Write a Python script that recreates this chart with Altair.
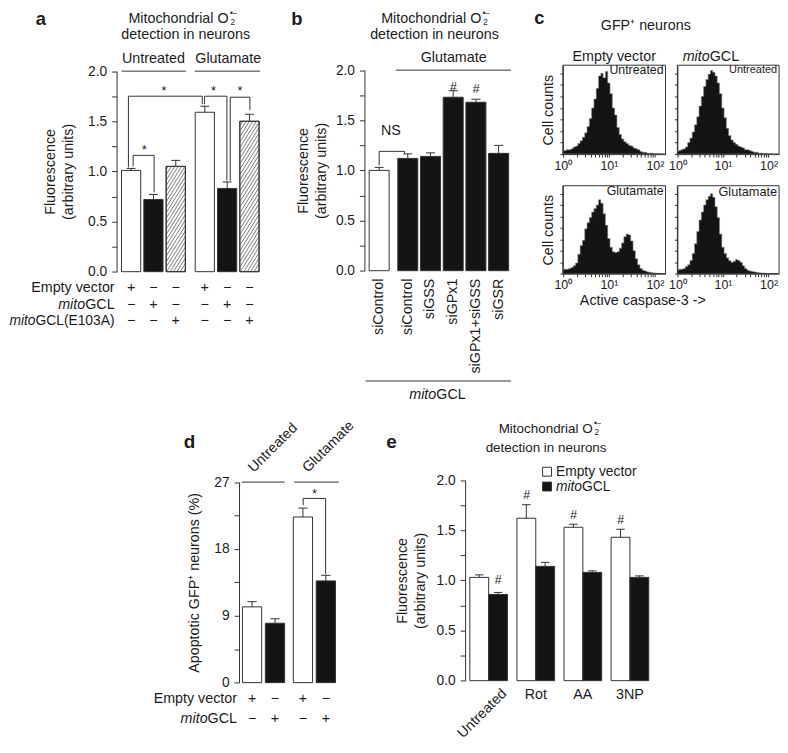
import altair as alt
import pandas as pd

FONT = "Liberation Sans"
INK = "#1c1c1c"
LINE = "#333333"
W, H = 776, 734
SX, SY = 0.9924, 0.993


def X(r):
    return round((r - 5) * SX, 2)


def Y(r):
    return round((r - 9) * SY, 2)


FSR = 14.5
FS = round(FSR * SX, 2)
FT = 13.8  # tick labels
FTC = 12.5  # histogram tick labels

# ------------------------------------------------------------------ data
# panel a
a_pos = [0, 1, 2, 3.3, 4.3, 5.3]
a_val = [1.01, 0.72, 1.05, 1.59, 0.83, 1.50]
a_err = [0.02, 0.05, 0.06, 0.06, 0.065, 0.07]
a_kind = ["open", "solid", "hatch", "open", "solid", "hatch"]
a_groups = ["Untreated", "Glutamate"]
a_signs_empty = ["+", "−", "−", "+", "−", "−"]
a_signs_mito = ["−", "+", "−", "−", "+", "−"]
a_signs_mut = ["−", "−", "+", "−", "−", "+"]
a_brackets = [(0.09, 1.05, 1.03, 0.79, 1.16), (-0.12, 1.04, 3.19, 1.67, 1.75),
              (3.29, 1.67, 4.29, 0.91, 1.75), (4.44, 0.91, 5.32, 1.61, 1.74)]
a_stars = [(0.59, 1.24), (1.47, 1.83), (3.69, 1.83), (4.88, 1.83)]

# panel b
b_labels = ["siControl", "siControl", "siGSS", "siGPx1", "siGPx1+siGSS", "siGSR"]
b_pos = [0, 1.26, 2.26, 3.26, 4.26, 5.26]
b_val = [1.00, 1.12, 1.14, 1.73, 1.68, 1.17]
b_err = [0.03, 0.045, 0.035, 0.065, 0.03, 0.08]
b_kind = ["open", "solid", "solid", "solid", "solid", "solid"]
b_ns_bracket = (0.0, 1.05, 1.12, 1.17, 1.19)
b_hash = [(3.26, 1.835), (4.26, 1.81)]

# panel c  (log10 bin centres and cell counts, % of frame height)
c_log = [round(0.05 * i, 2) for i in range(45)]
c_ev_untreated = [4, 4, 5, 5, 6, 8, 9, 12, 15, 19, 24, 31, 40, 52, 62, 74, 88, 91, 86, 93,
                  80, 68, 52, 44, 30, 22, 17, 14, 12, 10, 9, 7, 6, 5, 3, 2, 2, 1, 1, 1,
                  0.5, 0.5, 0.3, 0.2, 0]
c_mito_untreated = [3, 4, 5, 6, 8, 13, 18, 25, 33, 42, 54, 65, 76, 84, 90, 94, 92, 88, 80, 68,
                    52, 41, 29, 21, 16, 13, 11, 9, 8, 7, 5, 5, 4, 3, 2, 2, 1, 1, 0.5, 0.5,
                    0.3, 0.2, 0, 0, 0]
c_ev_glutamate = [4, 5, 5, 6, 7, 9, 12, 22, 32, 38, 51, 58, 64, 70, 74, 78, 84, 80, 68, 55,
                  40, 30, 25, 24, 25, 29, 35, 42, 45, 44, 37, 26, 17, 10, 6, 4, 3, 2, 1.5, 1,
                  0.8, 0.5, 0.3, 0.2, 0]
c_mito_glutamate = [4, 5, 5, 6, 8, 10, 15, 23, 34, 48, 61, 70, 78, 84, 88, 91, 87, 76, 64, 45,
                    30, 23, 18, 15, 13, 14, 16, 15, 13, 9, 6, 4, 3, 2.5, 2, 1.5, 1, 0.8, 0.5, 0.3,
                    0.2, 0.1, 0, 0, 0]

# panel d
d_pos = [0, 1, 2.22, 3.22]
d_val = [10.2, 8.0, 22.3, 13.7]
d_err = [0.7, 0.6, 1.2, 0.75]
d_kind = ["open", "solid", "open", "solid"]
d_signs_empty = ["+", "−", "+", "−"]
d_signs_mito = ["−", "+", "−", "+"]
d_bracket = (2.23, 23.9, 3.21, 14.6, 24.8)
d_star = (2.72, 25.8)

# panel e
e_groups = ["Untreated", "Rot", "AA", "3NP"]
e_empty = [1.03, 1.62, 1.53, 1.43]
e_empty_err = [0.025, 0.135, 0.03, 0.08]
e_mito = [0.86, 1.14, 1.08, 1.03]
e_mito_err = [0.02, 0.04, 0.015, 0.015]
e_hash = [(0.2, 1.0), (0.8, 1.85), (1.8, 1.65), (2.8, 1.6)]

# ------------------------------------------------------------------ layout
PA = {"xr": (115, 262), "xd": (-0.65, 5.85), "yr": (274, 71), "yd": (0, 2)}
PB = {"xr": (366, 514.35), "xd": (-0.65, 5.8), "yr": (273, 70), "yd": (0, 2)}
PD = {"xr": (239, 340.4), "xd": (-0.57, 3.8), "yr": (690, 487), "yd": (0, 27)}
PE = {"xr": (468, 658.8), "xd": (-0.5, 3.5), "yr": (688, 485), "yd": (0, 2)}

LAYERS = []


def xs(p):
    return alt.Scale(domain=list(p["xd"]), range=[X(p["xr"][0]), X(p["xr"][1])], nice=False, zero=False)


def ys(p):
    return alt.Scale(domain=list(p["yd"]), range=[Y(p["yr"][0]), Y(p["yr"][1])], nice=False, zero=False)


def yaxis(p, values, label_expr, title, title_pad, line_h=18):
    return alt.Axis(orient="left", offset=-X(p["xr"][0]), values=values, labelExpr=label_expr,
                    title=title, titlePadding=title_pad, titleLineHeight=line_h, tickSize=5,
                    labelPadding=5, domainColor=LINE, tickColor=LINE, labelColor=INK,
                    titleColor=INK, labelFont=FONT, titleFont=FONT, labelFontSize=FT,
                    titleFontSize=FS, titleFontWeight="normal", grid=False,
                    labelOverlap=False, labelFlush=False)


def segs(p, rows, color=LINE, width=1.0):
    df = pd.DataFrame(rows, columns=["x", "y", "x2", "y2"])
    return alt.Chart(df).mark_rule(color=color, strokeWidth=width).encode(
        x=alt.X("x:Q", scale=xs(p), axis=None), y=alt.Y("y:Q", scale=ys(p), axis=None),
        x2="x2:Q", y2="y2:Q")


def bracket_rows(b):
    xl, yl, xr, yr, yt = b
    return [(xl, yl, xl, yt), (xl, yt, xr, yt), (xr, yt, xr, yr)]


def dtext(p, pts, texts, **kw):
    df = pd.DataFrame({"x": [q[0] for q in pts], "y": [q[1] for q in pts], "t": texts})
    return alt.Chart(df).mark_text(font=FONT, color=INK, **kw).encode(
        x=alt.X("x:Q", scale=xs(p), axis=None), y=alt.Y("y:Q", scale=ys(p), axis=None), text="t:N")


def xtext(p, xvals, py, texts, **kw):
    df = pd.DataFrame({"x": xvals, "py": [Y(py)] * len(xvals), "t": texts})
    return alt.Chart(df).mark_text(font=FONT, color=INK, **kw).encode(
        x=alt.X("x:Q", scale=xs(p), axis=None), y=alt.Y("py:Q", scale=None, axis=None), text="t:N")


def ptext(items, **kw):
    df = pd.DataFrame([{"px": X(a), "py": Y(b), "t": t} for a, b, t in items])
    return alt.Chart(df).mark_text(font=FONT, color=INK, **kw).encode(
        x=alt.X("px:Q", scale=None, axis=None), y=alt.Y("py:Q", scale=None, axis=None), text="t:N")


W_MITO = 1.889


def mito_label(x, y, suffix, suffix_em, anchor="left", fs_ref=FSR):
    total = (W_MITO + suffix_em) * fs_ref
    if anchor == "right":
        left = x - total
    elif anchor == "center":
        left = x - total / 2
    else:
        left = x
    fs = round(fs_ref * SX, 2)
    return [ptext([(left, y, "mito")], align="left", baseline="middle", fontSize=fs, fontStyle="italic"),
            ptext([(left + W_MITO * fs_ref, y, suffix)], align="left", baseline="middle", fontSize=fs)]


def o2_title(left, cy1, cx2, cy2, fs_ref=FSR):
    fs = round(fs_ref * SX, 2)
    wmain = 7.002 * fs_ref
    return [ptext([(left, cy1, "Mitochondrial O")], align="left", baseline="middle", fontSize=fs),
            ptext([(left + wmain + 1.8, cy1 + 4.4, "2")], align="left", baseline="middle", fontSize=8.2),
            ptext([(left + wmain + 1.3, cy1 - 5, "•−")], align="left", baseline="middle", fontSize=8.2),
            ptext([(cx2, cy2, "detection in neurons")], align="center", baseline="middle", fontSize=fs)]


FILLS = {"open": "white", "solid": "#141414", "hatch": "white"}


def bar_layers(p, pos, val, err, kind, half, cap, axis):
    df = pd.DataFrame({"x0": [q - half for q in pos], "x1": [q + half for q in pos],
                       "b": [0.0] * len(pos), "v": val, "fc": [FILLS[k] for k in kind]})
    out = [alt.Chart(df).mark_rect(stroke=LINE, strokeWidth=1).encode(
        x=alt.X("x0:Q", scale=xs(p), axis=None), x2="x1:Q",
        y=alt.Y("b:Q", scale=ys(p), axis=axis), y2="v:Q",
        fill=alt.Fill("fc:N", scale=None))]
    # hatching (style only, derived from the bar extents)
    xu = (p["xr"][1] - p["xr"][0]) / (p["xd"][1] - p["xd"][0])
    yu = (p["yr"][0] - p["yr"][1]) / (p["yd"][1] - p["yd"][0])
    K, S = 1.6, 5.5
    rows = []
    hb = []
    for q, v, k in zip(pos, val, kind):
        if k != "hatch":
            continue
        hb.append((q, v))
        w = 2 * half * xu
        h = v * yu
        c = -K * w + S / 2
        while c < h:
            ulo = max(0.0, -c / K)
            uhi = min(w, (h - c) / K)
            if uhi > ulo + 0.3:
                rows.append((q - half + ulo / xu, (K * ulo + c) / yu, q - half + uhi / xu, (K * uhi + c) / yu))
            c += S
    if rows:
        out.append(segs(p, rows, color="#5a5a5a", width=0.8))
        dfo = pd.DataFrame({"x0": [q - half for q, _ in hb], "x1": [q + half for q, _ in hb],
                            "b": [0.0] * len(hb), "v": [v for _, v in hb]})
        out.append(alt.Chart(dfo).mark_rect(stroke=LINE, strokeWidth=1, fillOpacity=0, fill="white").encode(
            x=alt.X("x0:Q", scale=xs(p), axis=None), x2="x1:Q",
            y=alt.Y("b:Q", scale=ys(p), axis=None), y2="v:Q"))
    erows = []
    for q, v, e in zip(pos, val, err):
        erows.append((q, v, q, v + e))
        erows.append((q - cap, v + e, q + cap, v + e))
    out.append(segs(p, erows))
    return out


FLUOR_VALUES = [0, 0.25, 0.5, 0.75, 1, 1.25, 1.5, 1.75, 2]
FLUOR_EXPR = "datum.value % 0.5 == 0 ? format(datum.value, '.1f') : ''"
FLUOR_TITLE = ["Fluorescence", "(arbitrary units)"]

# ------------------------------------------------------------------ panel a
LAYERS += bar_layers(PA, a_pos, a_val, a_err, a_kind, 0.43, 0.2,
                     yaxis(PA, FLUOR_VALUES, FLUOR_EXPR, FLUOR_TITLE, 12))
LAYERS.append(segs(PA, [(-0.43, 2.0, 2.45, 2.0), (2.85, 2.0, 5.78, 2.0)]))
LAYERS.append(dtext(PA, [(1.0, 2.12), (4.35, 2.12)], a_groups, fontSize=FS, baseline="middle"))
LAYERS.append(segs(PA, [r for b in a_brackets for r in bracket_rows(b)]))
LAYERS.append(dtext(PA, a_stars, ["*"] * len(a_stars), fontSize=13, baseline="middle", dy=3))
LAYERS.append(xtext(PA, a_pos, 291, a_signs_empty, fontSize=FS, baseline="middle"))
LAYERS.append(xtext(PA, a_pos, 308, a_signs_mito, fontSize=FS, baseline="middle"))
LAYERS.append(xtext(PA, a_pos, 324, a_signs_mut, fontSize=FS, baseline="middle"))
LAYERS.append(ptext([(113, 291, "Empty vector")], align="right", baseline="middle", fontSize=FS))
LAYERS += mito_label(113, 308, "GCL", 2.056, "right")
LAYERS += mito_label(113, 324, "GCL(E103A)", 5.724, "right", fs_ref=14.0)
LAYERS += o2_title(127, 18, 185, 34)

# ------------------------------------------------------------------ panel b
LAYERS += bar_layers(PB, b_pos, b_val, b_err, b_kind, 0.44, 0.2,
                     yaxis(PB, FLUOR_VALUES, FLUOR_EXPR, FLUOR_TITLE, 7))
LAYERS.append(segs(PB, [(0.74, 2.0, 5.8, 2.0)]))
LAYERS.append(dtext(PB, [(3.28, 2.12)], ["Glutamate"], fontSize=FS, baseline="middle"))
LAYERS.append(segs(PB, bracket_rows(b_ns_bracket)))
LAYERS.append(dtext(PB, [(0.52, 1.39)], ["NS"], fontSize=FS, baseline="middle"))
LAYERS.append(dtext(PB, b_hash, ["#"] * len(b_hash), fontSize=12.5, baseline="middle", fontStyle="italic"))
LAYERS.append(xtext(PB, b_pos, 281, b_labels, fontSize=FS, angle=270, align="right", baseline="middle"))
LAYERS.append(segs(PB, [(-0.6, -1.10, 5.8, -1.10)]))
LAYERS += mito_label(440, 399, "GCL", 2.056, "center")
LAYERS += o2_title(383, 18, 437, 34)

# ------------------------------------------------------------------ panel c
C_DOM = [1, 170]


def hist(vals, xr, yr, left_title):
    sx_ = alt.Scale(type="log", domain=C_DOM, range=[X(xr[0]), X(xr[1])], nice=False)
    sy_ = alt.Scale(domain=[0, 100], range=[Y(yr[0]), Y(yr[1])], nice=False, zero=False)
    ticks = [1, 2, 3, 4, 5, 6, 7, 8, 9, 10, 20, 30, 40, 50, 60, 70, 80, 90, 100]
    xaxis = alt.Axis(orient="bottom", offset=round(Y(yr[0]) - H, 2), values=ticks,
                     labelExpr="datum.value == 1 ? '10⁰' : datum.value == 10 ? '10¹' : datum.value == 100 ? '10²' : ''",
                     tickSize=3, labelPadding=2, domainColor=LINE, tickColor=LINE, labelColor=INK,
                     labelFont=FONT, labelFontSize=FTC, title=None, grid=False, labelOverlap=False,
                     labelFlush=False)
    yaxis_ = alt.Axis(orient="left", offset=-X(xr[0]), values=[0, 13, 26, 39, 52, 65, 78, 91],
                      labels=False, tickSize=3, domainColor=LINE, tickColor=LINE,
                      title="Cell counts" if left_title else None, titleFont=FONT, titleFontSize=FS,
                      titleFontWeight="normal", titleColor=INK, titlePadding=4, grid=False)
    df = pd.DataFrame({"f": [10 ** l for l in c_log], "n": vals})
    area = alt.Chart(df).mark_area(interpolate="step", color="#141414", stroke="#8a8a8a",
                                   strokeWidth=0.6).encode(
        x=alt.X("f:Q", scale=sx_, axis=xaxis), y=alt.Y("n:Q", scale=sy_, axis=yaxis_))
    frame = alt.Chart(pd.DataFrame({"x": [C_DOM[0]], "x2": [C_DOM[1]], "y": [0], "y2": [100]})).mark_rect(
        fill="white", fillOpacity=0, stroke=LINE, strokeWidth=1).encode(
        x=alt.X("x:Q", scale=sx_, axis=None), x2="x2:Q", y=alt.Y("y:Q", scale=sy_, axis=None), y2="y2:Q")
    return [area, frame]


LAYERS += hist(c_ev_untreated, (567, 671), (155, 65), True)
LAYERS += hist(c_mito_untreated, (683, 786), (155, 65), False)
LAYERS += hist(c_ev_glutamate, (567, 671), (276, 187), True)
LAYERS += hist(c_mito_glutamate, (683, 786), (276, 187), False)
LAYERS.append(ptext([(651, 25, "GFP⁺ neurons"), (619, 57, "Empty vector"), (648, 304, "Active caspase-3 ->")],
                    align="center", baseline="middle", fontSize=FS))
LAYERS += mito_label(717, 57, "GCL", 2.056, "center")
LAYERS.append(ptext([(669, 70, "Untreated"), (669, 192, "Glutamate")], align="right", baseline="middle", fontSize=12.4))
LAYERS.append(ptext([(784, 70, "Untreated")], align="right", baseline="middle", fontSize=11))
LAYERS.append(ptext([(784, 193, "Glutamate")], align="right", baseline="middle", fontSize=12.8))

# ------------------------------------------------------------------ panel d
LAYERS += bar_layers(PD, d_pos, d_val, d_err, d_kind, 0.42, 0.2,
                     yaxis(PD, [0, 4.5, 9, 13.5, 18, 22.5, 27],
                           "datum.value % 9 == 0 ? format(datum.value, 'd') : ''",
                           "Apoptotic GFP⁺ neurons (%)", 12))
LAYERS.append(segs(PD, [(-0.45, 27, 1.42, 27), (1.84, 27, 3.78, 27)]))
LAYERS.append(ptext([(256, 480, "Untreated"), (311, 480, "Glutamate")], angle=315, align="left",
                    baseline="bottom", fontSize=FS))
LAYERS.append(segs(PD, bracket_rows(d_bracket)))
LAYERS.append(dtext(PD, [d_star], ["*"], fontSize=13, baseline="middle", dy=3))
LAYERS.append(xtext(PD, d_pos, 707, d_signs_empty, fontSize=FS, baseline="middle"))
LAYERS.append(xtext(PD, d_pos, 727, d_signs_mito, fontSize=FS, baseline="middle"))
LAYERS.append(ptext([(237, 707, "Empty vector")], align="right", baseline="middle", fontSize=FS))
LAYERS += mito_label(237, 727, "GCL", 2.056, "right")

# ------------------------------------------------------------------ panel e
e_x = list(range(len(e_groups)))
LAYERS += bar_layers(PE, [g - 0.2 for g in e_x], e_empty, e_empty_err, ["open"] * 4, 0.2, 0.09,
                     yaxis(PE, FLUOR_VALUES, FLUOR_EXPR, FLUOR_TITLE, 9))
LAYERS += bar_layers(PE, [g + 0.2 for g in e_x], e_mito, e_mito_err, ["solid"] * 4, 0.2, 0.09, None)
LAYERS.append(dtext(PE, e_hash, ["#"] * len(e_hash), fontSize=12.5, baseline="middle", fontStyle="italic"))
LAYERS.append(ptext([(503, 694, e_groups[0])], angle=315, align="right", baseline="top", fontSize=FS))
LAYERS.append(xtext(PE, e_x[1:], 703, e_groups[1:], fontSize=FS, baseline="middle"))
leg = pd.DataFrame({"px": [X(551), X(551)], "py": [Y(476.5), Y(491.5)], "fc": ["white", "#141414"]})
LAYERS.append(alt.Chart(leg).mark_square(size=80, stroke=LINE, strokeWidth=1, opacity=1).encode(
    x=alt.X("px:Q", scale=None, axis=None), y=alt.Y("py:Q", scale=None, axis=None),
    fill=alt.Fill("fc:N", scale=None)))
LAYERS.append(ptext([(560, 476.5, "Empty vector")], align="left", baseline="middle", fontSize=13.9))
LAYERS += mito_label(560, 491.5, "GCL", 2.056, "left", fs_ref=14.0)
LAYERS += o2_title(502, 433, 550, 452.5, fs_ref=13.6)

# ------------------------------------------------------------------ panel letters
LAYERS.append(ptext([(33, 9.5, "a"), (292, 9.5, "b"), (538, 8, "c")],
                    align="left", baseline="top", fontSize=18.5, fontWeight="bold"))
LAYERS.append(ptext([(183, 452, "d"), (388, 452, "e")],
                    align="left", baseline="alphabetic", fontSize=19, fontWeight="bold"))

chart = alt.layer(*LAYERS).resolve_scale(x="independent", y="independent").resolve_axis(
    x="independent", y="independent").properties(
    width=W, height=H, autosize=alt.AutoSizeParams(type="none"), padding=0
).configure_view(stroke=None)

chart.save("out.html", embed_options={"renderer": "svg", "actions": False})
